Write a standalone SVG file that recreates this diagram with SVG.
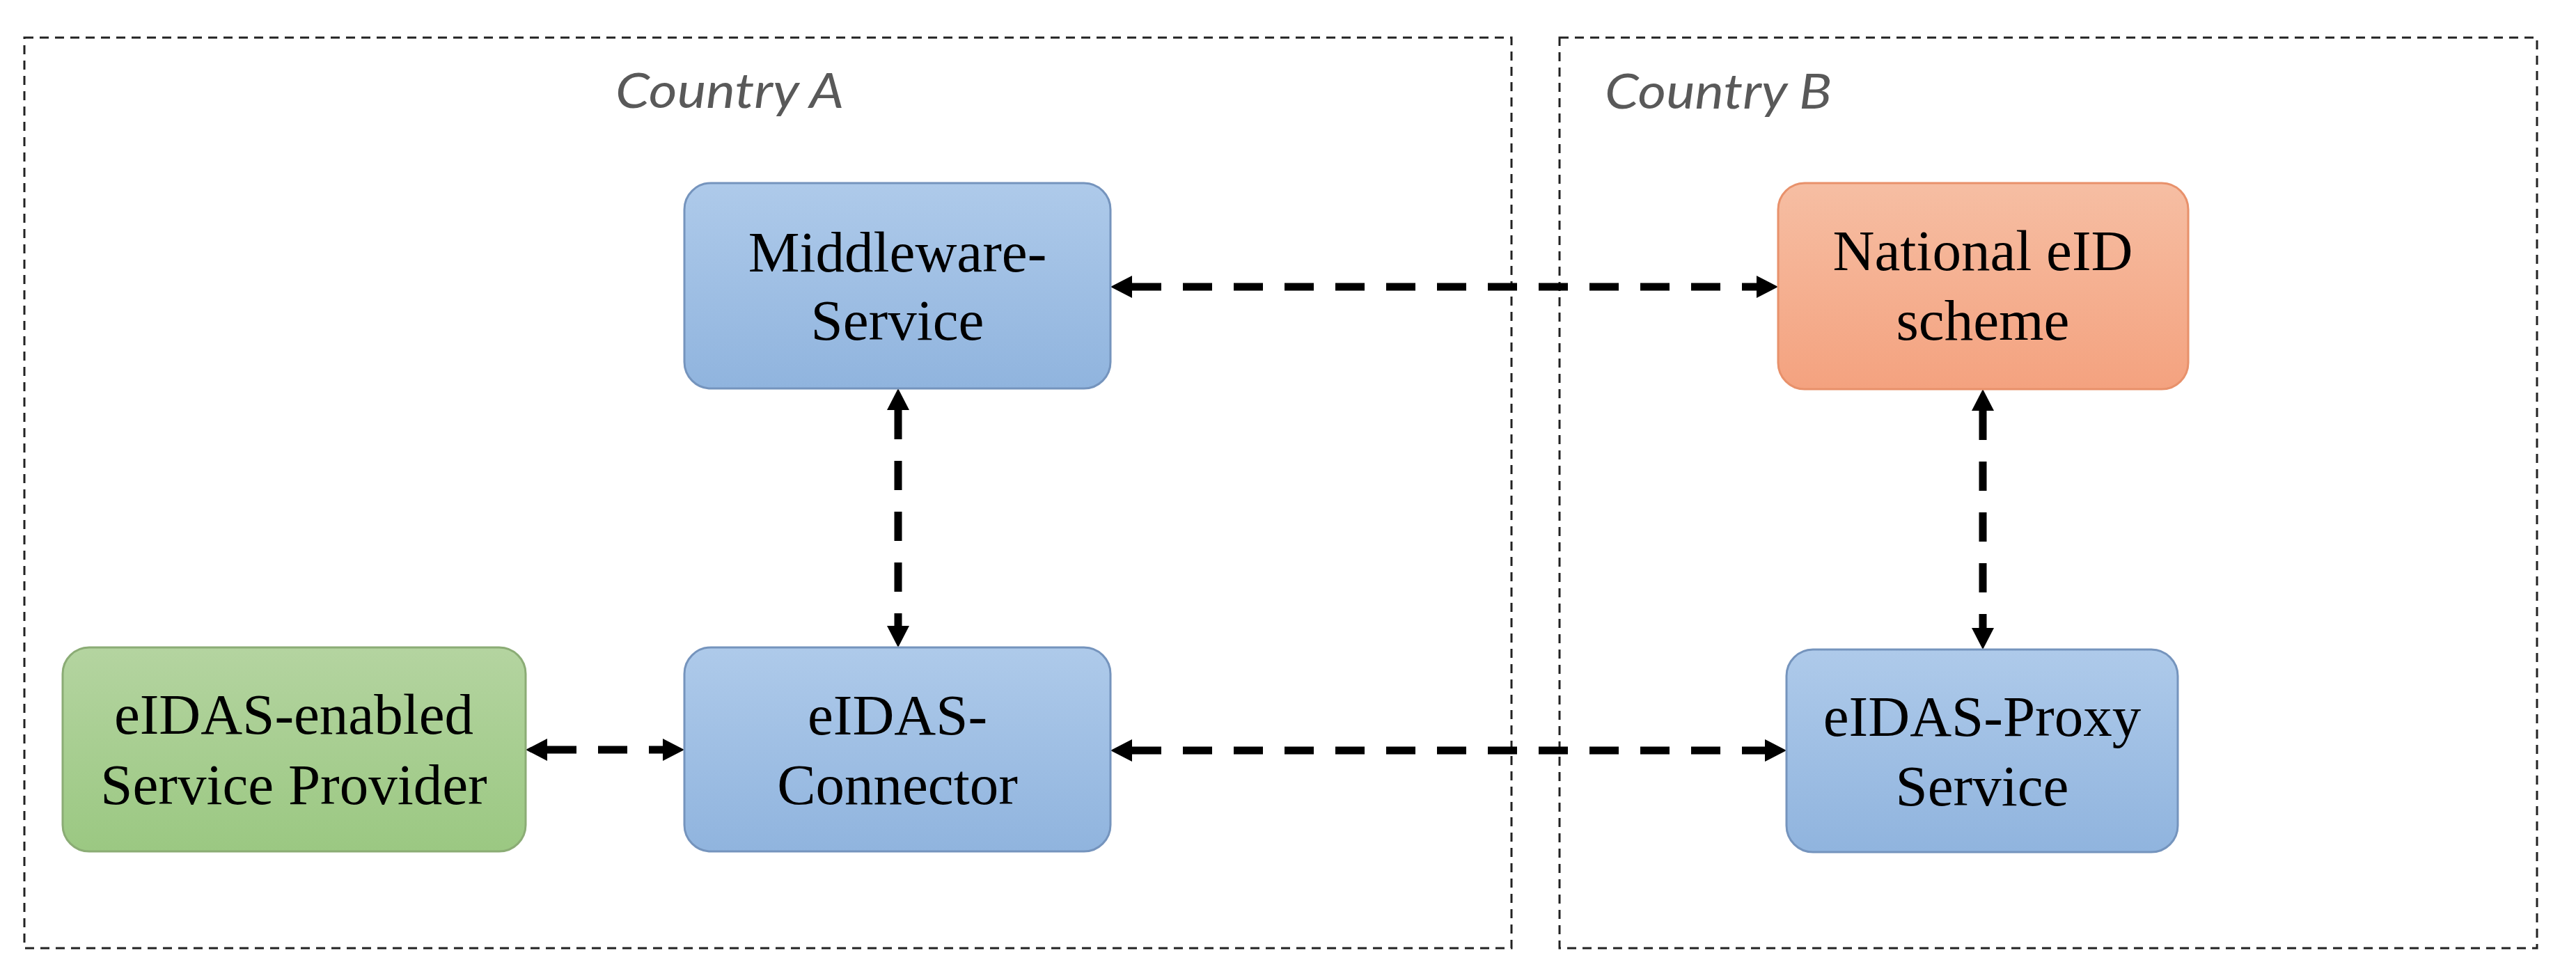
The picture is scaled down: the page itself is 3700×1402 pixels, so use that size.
<svg xmlns="http://www.w3.org/2000/svg" width="3700" height="1402" viewBox="0 0 3700 1402">
<style>
.frame{fill:none;stroke:#222;stroke-width:3;stroke-dasharray:13 9}
.country{font-family:Lato,"Open Sans",sans-serif;font-style:italic;font-size:70px;fill:#595959}
.node{stroke-width:3}
.lbl{font-family:"Liberation Serif","Times New Roman",serif;font-size:83px;fill:#000;text-anchor:middle}
.conn{stroke:#000;stroke-width:11;stroke-dasharray:42 31;fill:none}
</style>
<defs>
<linearGradient id="gBlue" x1="0" y1="0" x2="0" y2="1"><stop offset="0" stop-color="#aecaea"/><stop offset="1" stop-color="#90b4de"/></linearGradient>
<linearGradient id="gGreen" x1="0" y1="0" x2="0" y2="1"><stop offset="0" stop-color="#b4d4a0"/><stop offset="1" stop-color="#9bc882"/></linearGradient>
<linearGradient id="gOrange" x1="0" y1="0" x2="0" y2="1"><stop offset="0" stop-color="#f6bea3"/><stop offset="1" stop-color="#f4a27f"/></linearGradient>
<marker id="ah" markerUnits="userSpaceOnUse" markerWidth="32" markerHeight="34" viewBox="0 -17 32 34" refX="0" refY="0" orient="auto-start-reverse">
<path d="M0,-16 L31,0 L0,16 z" fill="#000"/>
</marker>
</defs>
<rect width="3700" height="1402" fill="#fff"/>
<g id="countryA">
<rect class="frame" x="35" y="54" width="2136" height="1308"/>
<text class="country" x="884" y="155" textLength="328" lengthAdjust="spacingAndGlyphs">Country A</text>
</g>
<g id="countryB">
<rect class="frame" x="2240" y="54" width="1404" height="1308"/>
<text class="country" x="2305" y="156" textLength="326" lengthAdjust="spacingAndGlyphs">Country B</text>
</g>
<g id="connectors">
<line class="conn" x1="1626" y1="412" x2="2523" y2="412" marker-start="url(#ah)" marker-end="url(#ah)"/>
<line class="conn" x1="786" y1="1077" x2="952" y2="1077" marker-start="url(#ah)" marker-end="url(#ah)"/>
<line class="conn" x1="1626" y1="1078" x2="2535" y2="1078" marker-start="url(#ah)" marker-end="url(#ah)"/>
<line class="conn" x1="1290" y1="589" x2="1290" y2="899" marker-start="url(#ah)" marker-end="url(#ah)"/>
<line class="conn" x1="2848" y1="590" x2="2848" y2="902" marker-start="url(#ah)" marker-end="url(#ah)"/>
</g>
<g id="middleware">
<rect class="node" x="983" y="263" width="612" height="295" rx="38" fill="url(#gBlue)" stroke="#7594bd"/>
<text class="lbl" x="1289" y="390">Middleware-</text>
<text class="lbl" x="1289" y="488">Service</text>
</g>
<g id="national">
<rect class="node" x="2554" y="263" width="589" height="296" rx="38" fill="url(#gOrange)" stroke="#e8916b"/>
<text class="lbl" x="2848" y="388">National eID</text>
<text class="lbl" x="2848" y="488">scheme</text>
</g>
<g id="serviceProvider">
<rect class="node" x="90" y="930" width="665" height="293" rx="38" fill="url(#gGreen)" stroke="#8bac75"/>
<text class="lbl" x="422" y="1054">eIDAS-enabled</text>
<text class="lbl" x="422" y="1155">Service Provider</text>
</g>
<g id="connector">
<rect class="node" x="983" y="930" width="612" height="293" rx="38" fill="url(#gBlue)" stroke="#7594bd"/>
<text class="lbl" x="1289" y="1055">eIDAS-</text>
<text class="lbl" x="1289" y="1155">Connector</text>
</g>
<g id="proxy">
<rect class="node" x="2566" y="933" width="562" height="291" rx="38" fill="url(#gBlue)" stroke="#7594bd"/>
<text class="lbl" x="2847" y="1057">eIDAS-Proxy</text>
<text class="lbl" x="2847" y="1157">Service</text>
</g>
</svg>
